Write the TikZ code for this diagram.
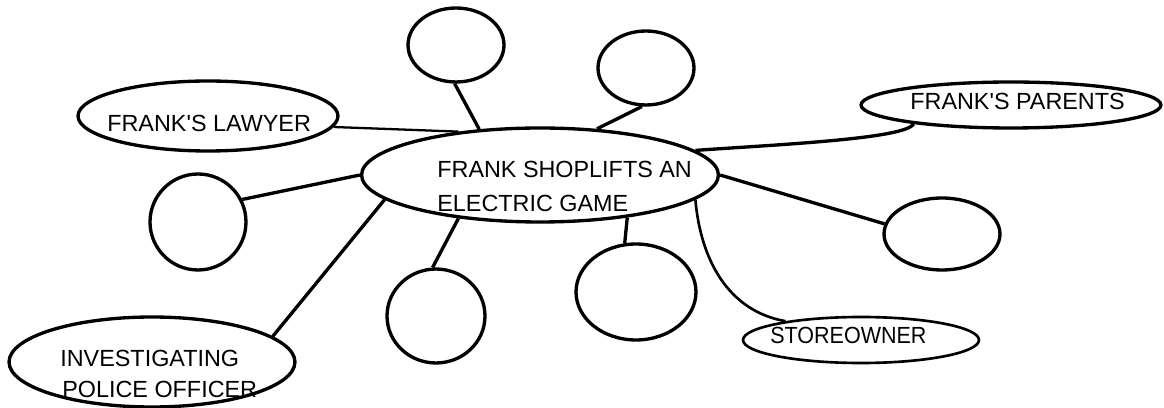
\documentclass[tikz,border=0pt]{standalone}
\usepackage{fontspec}
\setmainfont{Liberation Sans}
\usetikzlibrary{shapes.geometric}
\begin{document}
\begin{tikzpicture}[x=0.02cm,y=-0.02cm,
  blob/.style={ellipse,draw=black,line width=1.9pt,inner sep=0pt,fill=none},
  thinblob/.style={blob,line width=1.5pt},
  link/.style={draw=black,line width=1.9pt},
  thinlink/.style={draw=black,line width=1.3pt},
  lbl/.style={inner sep=0pt,anchor=base west,font=\fontsize{13.3}{16}\selectfont}]
\useasboundingbox (0,0) rectangle (1164,408);
\fill[white] (0,0) rectangle (1164,408);

% central event
\node[blob,minimum width=7.14cm,minimum height=1.88cm] (c) at (540,175) {};
\node[lbl] (ct1) at (437,178) {FRANK SHOPLIFTS AN};
\node[lbl] (ct2) at (437,212) {ELECTRIC GAME};

% labelled participants
\node[blob,minimum width=5.2cm,minimum height=1.4cm] (law) at (208,116) {};
\node[lbl] (lawt) at (107,132) {FRANK\textquotesingle S LAWYER};
\node[blob,minimum width=6.0cm,minimum height=0.92cm] (par) at (1011,105) {};
\node[lbl] (part) at (910,110) {FRANK\textquotesingle S PARENTS};
\node[blob,minimum width=5.72cm,minimum height=1.8cm] (pol) at (152,362) {};
\node[lbl] (polt1) at (60,367) {INVESTIGATING};
\node[lbl] (polt2) at (62,398) {POLICE OFFICER};
\node[thinblob,minimum width=4.72cm,minimum height=0.92cm] (own) at (861,340) {};
\node[lbl] (ownt) at (770,344) {\scalebox{0.92}[1]{STOREOWNER}};

% empty bubbles
\node[blob,minimum width=1.92cm,minimum height=1.48cm] (tl) at (456,45) {};
\node[blob,minimum width=1.92cm,minimum height=1.48cm] (tr) at (646,68) {};
\node[blob,minimum width=1.92cm,minimum height=1.92cm] (lc) at (198,222) {};
\node[blob,minimum width=1.96cm,minimum height=1.88cm] (bl) at (436,316) {};
\node[blob,minimum width=2.4cm,minimum height=1.92cm] (bm) at (636,292) {};
\node[blob,minimum width=2.32cm,minimum height=1.44cm] (rc) at (942,234) {};

% spokes
\draw[link] (tl.-92) -- (c.143);
\draw[link] (tr.-96) -- (c.39.5);
\draw[thinlink] (law.-5) -- (c.152);
\draw[link] (lc.27) -- (c.180);
\draw[link] (pol.12) -- (c.189);
\draw[link] (bl.94) -- (c.208);
\draw[link] (bm.103) -- (c.-26.3);
\draw[link] (rc.170) -- (c.0);
\draw[link] (par.191) to[out=-120,in=4,out looseness=0.2,in looseness=1] (c.9.3);
\draw[thinlink,line width=1.5pt] (c.-9.2) to[out=-85,in=170] (own.166);
\end{tikzpicture}
\end{document}
